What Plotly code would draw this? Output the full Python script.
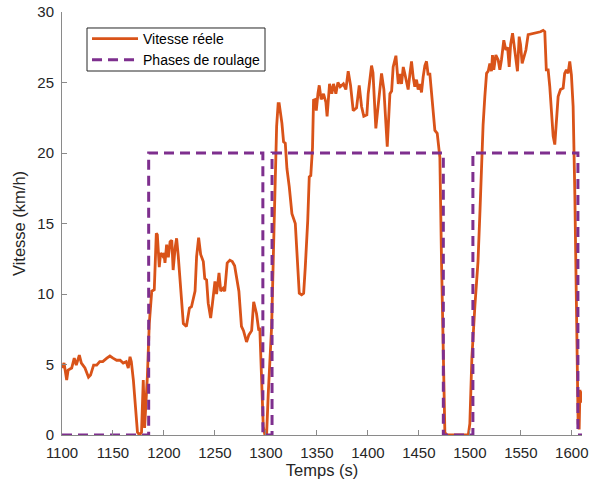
import plotly.graph_objects as go

# Measured speed (time in s, speed in km/h)
t_speed = [1100, 1102, 1104.6, 1106, 1109.5, 1112, 1114, 1117, 1119, 1122.5, 1126, 1128, 1131, 1134, 1137, 1140,
           1144, 1147, 1150, 1153.6, 1157, 1160, 1163, 1165, 1166.7, 1168, 1170, 1172.5, 1174, 1176, 1178, 1179.7,
           1181, 1183.7, 1185.6, 1188, 1190.5, 1192.5, 1193.5, 1195.4, 1196.7, 1198.7, 1200, 1201, 1202.6, 1204.3,
           1206, 1207.7, 1209, 1211, 1212.4, 1214, 1216.4, 1219, 1222, 1225, 1227, 1228.8, 1230.5, 1232, 1234, 1236,
           1238.6, 1240, 1241.8, 1243.4, 1245.8, 1247.6, 1250, 1251.6, 1254, 1255.7, 1258, 1259.6, 1262, 1264.6,
           1267, 1269.3, 1271.9, 1273.5, 1276, 1278, 1281, 1283.3, 1286, 1288, 1290.8, 1293, 1294, 1295.8, 1297.4,
           1299, 1300.7, 1302.3, 1305.6, 1308, 1310.5, 1312, 1313, 1315.7, 1317.3, 1319, 1320.6, 1322.9, 1325.5,
           1328.8, 1330.4, 1332.7, 1335, 1337, 1338.6, 1341, 1342.5, 1344, 1345.7, 1346.7, 1348.4, 1349.4, 1351,
           1352.3, 1354.2, 1356.5, 1358.8, 1360, 1362.4, 1364.6, 1366.3, 1368.6, 1370.6, 1372.8, 1376, 1378.4,
           1380.7, 1383, 1385.6, 1388.9, 1391.5, 1393.8, 1396, 1399, 1400.3, 1403.6, 1405, 1407.8, 1410, 1413.4,
           1415.7, 1419, 1421.6, 1423.3, 1424.8, 1427.5, 1429.8, 1431.4, 1433, 1434.7, 1436.3, 1439.5, 1441.2,
           1442.8, 1444.4, 1446, 1447.7, 1449.3, 1451, 1452.6, 1454.2, 1455.9, 1457.5, 1459, 1460.8, 1463.4,
           1465.7, 1468, 1470.6, 1472.2, 1473.8, 1475.5, 1477, 1498.5, 1500, 1502, 1505, 1508, 1510, 1511.5, 1513,
           1514.7, 1516.4, 1518, 1519.6, 1521.2, 1522.2, 1523.5, 1525.5, 1527.8, 1529.4, 1531, 1533.3, 1535.3,
           1537, 1538.6, 1540, 1541.9, 1543.5, 1545, 1546.7, 1548.4, 1549.7, 1551.3, 1553, 1555, 1557.2, 1560.5,
           1563.7, 1567, 1569.3, 1571.9, 1573.5, 1575, 1576.8, 1578.4, 1580, 1581.7, 1583.3, 1585, 1586.6, 1588.9,
           1591.5, 1593, 1594.7, 1596.3, 1598, 1599.6, 1601.3, 1603, 1604.6, 1606.2, 1607.2, 1608, 1609, 1610]
v_speed = [4.75, 5.1, 3.9, 4.6, 4.75, 5.45, 4.95, 5.67, 5.1, 4.75, 4.1, 4.25, 4.95, 4.95, 5.2, 5.2,
           5.45, 5.6, 5.45, 5.3, 5.3, 5.1, 5.2, 4.75, 5.55, 5.2, 3.9, 1.55, 0.2, 0, 0.2, 3.9,
           0.5, 4.1, 7.9, 10.2, 10.3, 14.3, 14.2, 11.9, 12.9, 12.7, 12.9, 12.2, 13.5, 12.6,
           13.7, 13.8, 11.7, 13.3, 13.95, 12.7, 10.05, 7.9, 7.7, 9.0, 9.1, 9.7, 10.2, 12.65, 14.0, 12.8,
           12.3, 11.1, 11.0, 9.35, 8.3, 9.35, 10.9, 10.0, 11.5, 10.2, 10.4, 10.2, 12.2, 12.4,
           12.3, 12.0, 11.0, 10.2, 7.7, 7.4, 6.6, 7.1, 7.4, 9.45, 8.6, 7.4, 7.6, 4.1, 0.6,
           0, 0.1, 2.95, 7.7, 14.8, 21.9, 23.5, 23.5, 22.1, 20.8, 20.7, 18.9, 17.6, 15.7,
           15.0, 12.9, 10.05, 9.95, 10.05, 11.9, 15.2, 18.3, 18.4, 20.4, 23.75, 23.8, 23.0, 24.2,
           24.8, 23.8, 24.2, 23.6, 22.6, 24.9, 24.2, 24.9, 24.2, 25.0, 24.7, 24.9, 24.5,
           25.8, 24.8, 23.0, 23.2, 24.8, 23.3, 22.6, 22.7, 24.2, 26.2, 25.7, 21.75, 23.3, 25.65,
           24.5, 20.45, 24.2, 24.4, 26.1, 26.9, 24.9, 25.6, 24.9, 26.1, 25.6, 24.5, 25.6,
           26.5, 25.4, 24.7, 25.2, 24.5, 24.9, 24.3, 25.4, 26.2, 26.5, 25.6, 25.6, 23.3,
           21.6, 21.4, 19.7, 12.4, 5.3, 0.2, 0, 0, 0.8, 5.5, 9.2, 12.3, 16.0, 19.5, 22.0,
           24.0, 25.65, 25.8, 26.35, 25.8, 26.95, 25.9, 26.95, 26.6, 25.9, 26.6, 28.0, 27.3,
           27.5, 26.1, 27.7, 28.5, 27.7, 26.8, 25.8, 28.25, 27.7, 26.35, 26.8, 27.3, 28.4, 28.45,
           28.5, 28.6, 28.6, 28.7, 28.6, 25.9, 25.9, 24.7, 22.8, 21.2, 20.6, 22.6, 24.0, 24.5,
           24.6, 25.65, 25.9, 25.65, 26.5, 25.55, 23.3, 17, 9.6, 0.8, 0.4, 3.2, 2.3, 3.1]

# Driving phases (step signal)
t_phase = [1100, 1185, 1185, 1297, 1297, 1306, 1306, 1474, 1474, 1503, 1503, 1606, 1606, 1610]
v_phase = [0, 0, 20, 20, 0, 0, 20, 20, 0, 0, 20, 20, 0, 0]

x_ticks = [1100, 1150, 1200, 1250, 1300, 1350, 1400, 1450, 1500, 1550, 1600]
y_ticks = [0, 5, 10, 15, 20, 25, 30]

FONT = "Liberation Sans, Arial, Helvetica, sans-serif"

fig = go.Figure()
fig.add_trace(go.Scatter(x=t_speed, y=v_speed, mode="lines", name="Vitesse réele",
                         line=dict(color="#D95319", width=2.8)))
fig.add_trace(go.Scatter(x=t_phase, y=v_phase, mode="lines", name="Phases de roulage",
                         line=dict(color="#7E2F8E", width=3, dash="10px,6px")))

axis_common = dict(showgrid=False, zeroline=False, showline=True, linecolor="#8a8a8a", linewidth=1,
                   ticks="inside", ticklen=5, tickcolor="#8a8a8a", automargin=False,
                   tickfont=dict(family=FONT, size=15, color="#262626"), mirror=False)

fig.update_layout(
    width=598, height=488,
    paper_bgcolor="white", plot_bgcolor="white",
    margin=dict(l=62, r=16, t=12, b=53),
    font=dict(family=FONT, size=14, color="#262626"),
    xaxis=dict(range=[1100, 1610], tickvals=x_ticks, ticklabelstandoff=4,
               title=dict(text="Temps (s)", font=dict(family=FONT, size=16.5, color="#262626"), standoff=4),
               **axis_common),
    yaxis=dict(range=[0, 30], tickvals=y_ticks, ticklabelstandoff=4,
               title=dict(text="Vitesse (km/h)", font=dict(family=FONT, size=16.5, color="#262626"), standoff=7),
               **axis_common),
    legend=dict(x=0.0481, y=0.974, xanchor="left", yanchor="top",
                bgcolor="rgba(0,0,0,0)", borderwidth=0,
                font=dict(family=FONT, size=14, color="#000000"),
                tracegroupgap=0, itemwidth=46),
    shapes=[dict(type="rect", xref="paper", yref="paper", x0=0.0481, x1=0.3904, y0=0.8605, y1=0.9622,
                 line=dict(color="#262626", width=1), fillcolor="white", layer="below")],
    showlegend=True,
)

fig.write_html("out.html", config={"displayModeBar": False},
               post_script="document.body.style.margin='0';")
